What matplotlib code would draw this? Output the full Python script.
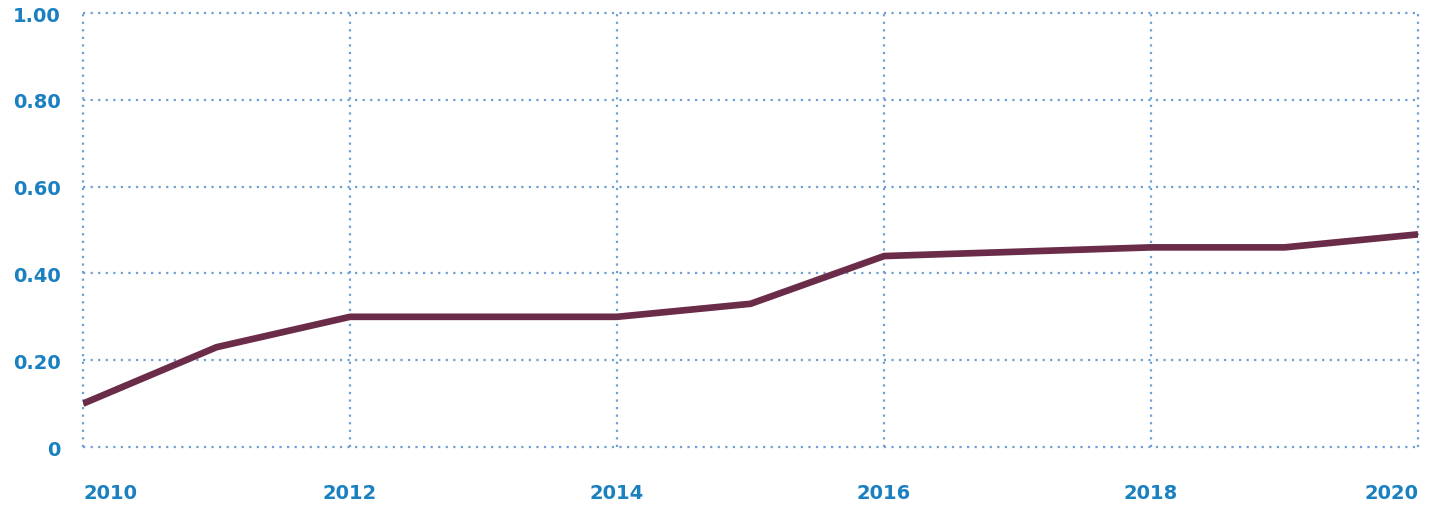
import matplotlib
matplotlib.use("Agg")
import matplotlib.pyplot as plt

years = [2010, 2011, 2012, 2013, 2014, 2015, 2016, 2017, 2018, 2019, 2020]
values = [0.10, 0.23, 0.30, 0.30, 0.30, 0.33, 0.44, 0.45, 0.46, 0.46, 0.49]
xticks = [2010, 2012, 2014, 2016, 2018, 2020]
yticks = [0, 0.2, 0.4, 0.6, 0.8, 1.0]
ylabels = ["0", "0.20", "0.40", "0.60", "0.80", "1.00"]

line_color = "#6a2c48"
grid_color = "#6f9fd4"
label_color = "#1a80c0"

fig = plt.figure(figsize=(14.42, 5.06), dpi=100)
ax = fig.add_axes([0.0576, 0.1146, 0.9258, 0.8577])
ax.plot(years, values, color=line_color, lw=4.8, solid_capstyle="butt",
        solid_joinstyle="round", zorder=3)
ax.set_xlim(2010, 2020)
ax.set_ylim(0, 1.0)
ax.set_xticks(xticks)
ax.set_yticks(yticks)
ax.set_yticklabels(ylabels)
for s in ax.spines.values():
    s.set_visible(False)
ax.grid(True, color=grid_color, linestyle=(0, (1, 2.4)), lw=1.6)
for gl in ax.get_xgridlines() + ax.get_ygridlines():
    gl.set_clip_on(False)
ax.tick_params(length=0)
ax.tick_params(axis="x", pad=26)
ax.tick_params(axis="y", pad=16)
for lab in ax.get_xticklabels() + ax.get_yticklabels():
    lab.set_fontfamily("DejaVu Sans")
    lab.set_fontweight("bold")
    lab.set_fontsize(14)
    lab.set_color(label_color)
xl = ax.get_xticklabels()
xl[0].set_horizontalalignment("left")
xl[-1].set_horizontalalignment("right")
fig.savefig("out.png", dpi=100)
